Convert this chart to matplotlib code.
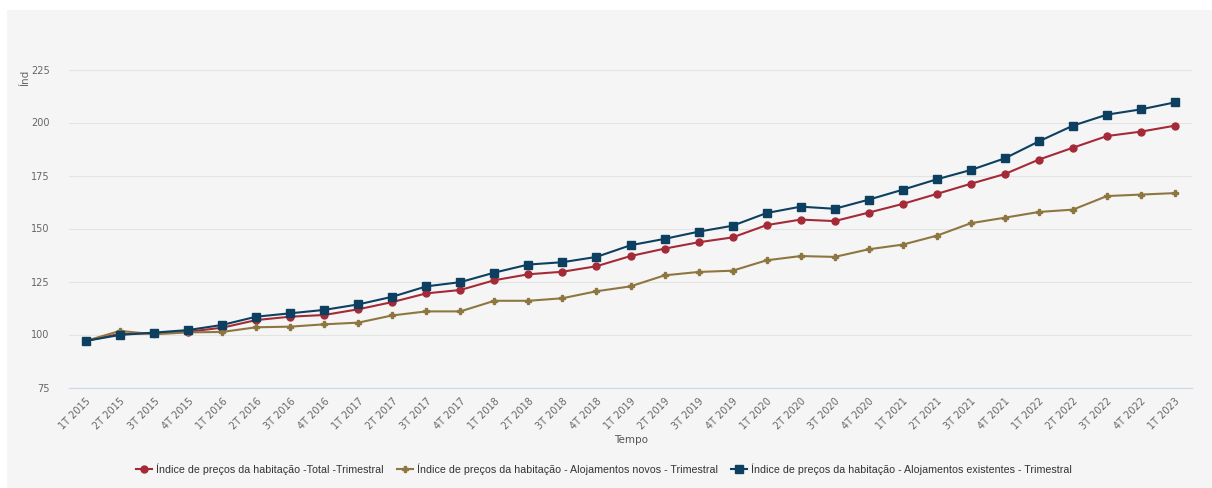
import matplotlib.pyplot as plt
from matplotlib.patches import Rectangle

# quarters 1T 2015 .. 1T 2023
periods = ['%dT %d' % (q, y) for y in range(2015, 2024) for q in range(1, 5)][:33]

total = [97.0, 100.3, 100.6, 101.3, 103.2, 106.8, 108.4, 109.2, 111.9, 115.3,
         119.4, 121.0, 125.6, 128.4, 129.6, 132.2, 137.0, 140.5, 143.5, 145.8,
         151.6, 154.2, 153.5, 157.5, 161.6, 166.3, 171.1, 175.7, 182.5, 188.1,
         193.6, 195.7, 198.5]
novos = [97.0, 101.7, 100.1, 101.0, 101.2, 103.4, 103.7, 104.8, 105.6, 109.0,
         110.9, 110.9, 115.9, 115.9, 117.1, 120.4, 122.7, 127.9, 129.5, 130.1,
         135.0, 137.0, 136.6, 140.2, 142.4, 146.6, 152.5, 155.1, 157.8, 158.9,
         165.3, 166.0, 166.7]
existentes = [97.0, 99.8, 100.9, 102.1, 104.5, 108.4, 110.0, 111.6, 114.2, 117.8,
              122.7, 124.7, 129.2, 133.0, 134.1, 136.6, 142.1, 145.1, 148.5, 151.3,
              157.3, 160.3, 159.3, 163.6, 168.3, 173.2, 177.6, 183.1, 191.1, 198.5,
              203.7, 206.2, 209.5]

series = [
    ('Índice de preços da habitação -Total -Trimestral', total, '#a52a38', 'o', 5),
    ('Índice de preços da habitação - Alojamentos novos - Trimestral', novos, '#8e7641', 'P', 4.5),
    ('Índice de preços da habitação - Alojamentos existentes - Trimestral', existentes, '#0d4060', 's', 5.5),
]

plt.rcParams['font.family'] = ['DejaVu Sans']
fig = plt.figure(figsize=(12.12, 4.88), dpi=100)
fig.patches.append(Rectangle((7 / 1212, 0), 1, 1 - 10 / 488, transform=fig.transFigure,
                             facecolor='#f5f5f5', edgecolor='none', zorder=-10))
ax = fig.add_axes([69 / 1212, 1 - 387.5 / 488, (1192 - 69) / 1212, (387.5 - 69.5) / 488])
ax.set_facecolor('none')

x = list(range(len(periods)))
for label, vals, color, marker, ms in series:
    ax.plot(x, vals, color=color, marker=marker, markersize=ms, linewidth=1.5, label=label)

ax.set_xlim(-0.5, len(periods) - 0.5)
ax.set_ylim(75, 225)
ax.set_yticks([75, 100, 125, 150, 175, 200, 225])
ax.grid(axis='y', color='#e3e3e3', linewidth=0.8)
ax.set_axisbelow(True)
for s in ['top', 'right', 'left']:
    ax.spines[s].set_visible(False)
ax.spines['bottom'].set_color('#ccd6eb')
ax.tick_params(axis='both', length=0, colors='#666666', labelsize=7)
ax.tick_params(axis='y', pad=14)
ax.set_xticks(x)
ax.set_xticklabels(periods, rotation=45, ha='right', rotation_mode='anchor')
ax.tick_params(axis='x', pad=6)

fig.text(25 / 1212, 1 - 70 / 488, 'Índ', rotation=90, ha='center', va='top',
         fontsize=7.5, color='#666666')
fig.text(631 / 1212, 1 - 440 / 488, 'Tempo', ha='center', va='center',
         fontsize=7.5, color='#555555')

leg = fig.legend(loc='center', bbox_to_anchor=(604 / 1212, 1 - 469 / 488), ncol=3,
                 frameon=False, handlelength=1.5, columnspacing=1.2, handletextpad=0.4,
                 prop={'family': 'Liberation Sans', 'size': 7.7})
for t in leg.get_texts():
    t.set_color('#333333')

fig.savefig('out.png', dpi=100, facecolor='white')
